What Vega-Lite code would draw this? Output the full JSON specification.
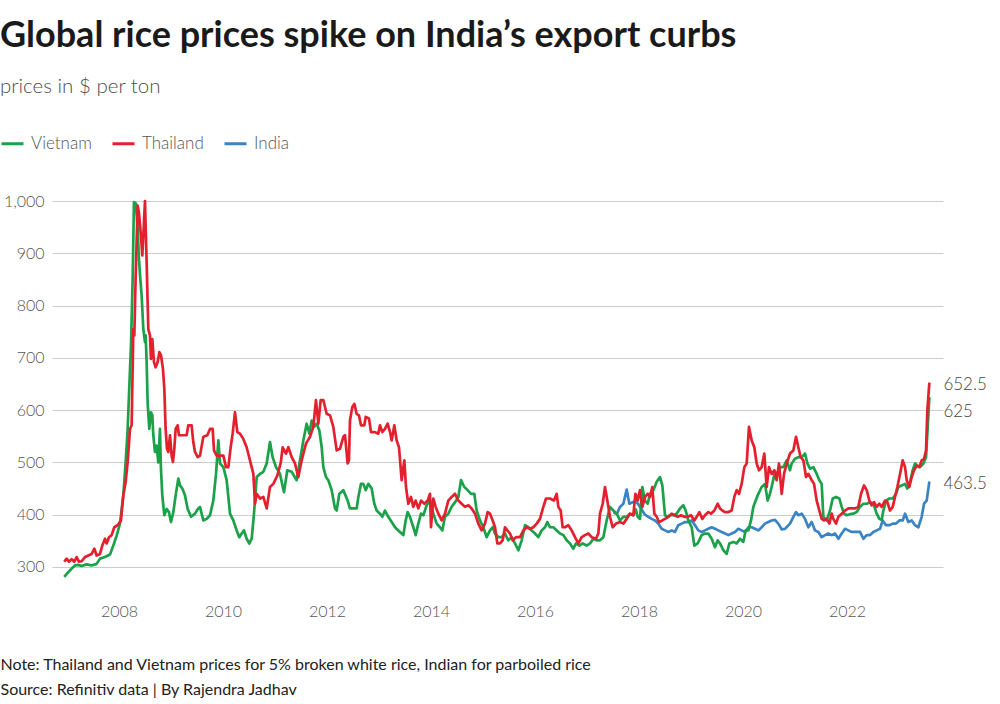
{
"$schema": "https://vega.github.io/schema/vega-lite/v6.json",
"width": 891, "height": 389,
"autosize": {"type": "none"},
"padding": {"left": 52, "top": 201, "right": 57, "bottom": 114},
"background": "white",
"config": {"font": "Lato", "view": {"stroke": null}},
"title": {"text": "Global rice prices spike on India’s export curbs", "subtitle": "prices in $ per ton", "anchor": "start", "frame": "group", "dx": -52, "offset": 33, "fontSize": 36, "fontWeight": "bold", "color": "#1a1a1a", "subtitleFontSize": 20.5, "subtitleColor": "#4d4d4d", "subtitleFontWeight": 300, "subtitlePadding": 22},
"data": {"values": [
{"country":"India","year":2017.507,"price":405},{"country":"India","year":2017.571,"price":401},{"country":"India","year":2017.635,"price":415},{"country":"India","year":2017.699,"price":421},{"country":"India","year":2017.763,"price":448},{"country":"India","year":2017.814,"price":421},{"country":"India","year":2017.878,"price":424},{"country":"India","year":2017.942,"price":425},{"country":"India","year":2017.987,"price":420},{"country":"India","year":2018.051,"price":410},{"country":"India","year":2018.115,"price":400},{"country":"India","year":2018.179,"price":396},{"country":"India","year":2018.244,"price":392},{"country":"India","year":2018.308,"price":389},{"country":"India","year":2018.372,"price":383},{"country":"India","year":2018.436,"price":373},{"country":"India","year":2018.5,"price":370},{"country":"India","year":2018.564,"price":367},{"country":"India","year":2018.628,"price":370},{"country":"India","year":2018.692,"price":367},{"country":"India","year":2018.756,"price":380},{"country":"India","year":2018.82,"price":383},{"country":"India","year":2018.885,"price":386},{"country":"India","year":2018.949,"price":386},{"country":"India","year":2019.013,"price":389},{"country":"India","year":2019.077,"price":380},{"country":"India","year":2019.141,"price":370},{"country":"India","year":2019.205,"price":367},{"country":"India","year":2019.269,"price":370},{"country":"India","year":2019.333,"price":373},{"country":"India","year":2019.397,"price":376},{"country":"India","year":2019.462,"price":373},{"country":"India","year":2019.526,"price":370},{"country":"India","year":2019.59,"price":367},{"country":"India","year":2019.654,"price":364},{"country":"India","year":2019.718,"price":361},{"country":"India","year":2019.782,"price":364},{"country":"India","year":2019.846,"price":367},{"country":"India","year":2019.91,"price":373},{"country":"India","year":2019.974,"price":370},{"country":"India","year":2020.038,"price":367},{"country":"India","year":2020.103,"price":376},{"country":"India","year":2020.167,"price":376},{"country":"India","year":2020.231,"price":373},{"country":"India","year":2020.295,"price":370},{"country":"India","year":2020.359,"price":376},{"country":"India","year":2020.423,"price":383},{"country":"India","year":2020.487,"price":386},{"country":"India","year":2020.551,"price":389},{"country":"India","year":2020.615,"price":390},{"country":"India","year":2020.679,"price":383},{"country":"India","year":2020.744,"price":372},{"country":"India","year":2020.808,"price":373},{"country":"India","year":2020.904,"price":383},{"country":"India","year":2020.968,"price":396},{"country":"India","year":2021.02,"price":405},{"country":"India","year":2021.064,"price":399},{"country":"India","year":2021.129,"price":402},{"country":"India","year":2021.193,"price":392},{"country":"India","year":2021.257,"price":376},{"country":"India","year":2021.321,"price":386},{"country":"India","year":2021.385,"price":370},{"country":"India","year":2021.449,"price":367},{"country":"India","year":2021.513,"price":357},{"country":"India","year":2021.577,"price":361},{"country":"India","year":2021.641,"price":364},{"country":"India","year":2021.705,"price":361},{"country":"India","year":2021.769,"price":364},{"country":"India","year":2021.834,"price":354},{"country":"India","year":2021.898,"price":364},{"country":"India","year":2021.962,"price":373},{"country":"India","year":2022.026,"price":370},{"country":"India","year":2022.09,"price":367},{"country":"India","year":2022.154,"price":367},{"country":"India","year":2022.25,"price":367},{"country":"India","year":2022.314,"price":354},{"country":"India","year":2022.378,"price":361},{"country":"India","year":2022.443,"price":361},{"country":"India","year":2022.507,"price":367},{"country":"India","year":2022.571,"price":370},{"country":"India","year":2022.635,"price":373},{"country":"India","year":2022.686,"price":389},{"country":"India","year":2022.75,"price":380},{"country":"India","year":2022.815,"price":380},{"country":"India","year":2022.879,"price":383},{"country":"India","year":2022.943,"price":383},{"country":"India","year":2023.007,"price":389},{"country":"India","year":2023.071,"price":389},{"country":"India","year":2023.116,"price":402},{"country":"India","year":2023.18,"price":386},{"country":"India","year":2023.244,"price":389},{"country":"India","year":2023.308,"price":380},{"country":"India","year":2023.372,"price":376},{"country":"India","year":2023.436,"price":396},{"country":"India","year":2023.481,"price":421},{"country":"India","year":2023.532,"price":427},{"country":"India","year":2023.584,"price":463.5},
{"country":"Vietnam","year":2006.948,"price":281},{"country":"Vietnam","year":2007.025,"price":290},{"country":"Vietnam","year":2007.09,"price":297},{"country":"Vietnam","year":2007.154,"price":303},{"country":"Vietnam","year":2007.218,"price":304},{"country":"Vietnam","year":2007.282,"price":302},{"country":"Vietnam","year":2007.378,"price":305},{"country":"Vietnam","year":2007.474,"price":303},{"country":"Vietnam","year":2007.57,"price":306},{"country":"Vietnam","year":2007.635,"price":316},{"country":"Vietnam","year":2007.731,"price":319},{"country":"Vietnam","year":2007.827,"price":324},{"country":"Vietnam","year":2007.891,"price":341},{"country":"Vietnam","year":2007.955,"price":360},{"country":"Vietnam","year":2008.019,"price":383},{"country":"Vietnam","year":2008.083,"price":437},{"country":"Vietnam","year":2008.128,"price":500},{"country":"Vietnam","year":2008.167,"price":564},{"country":"Vietnam","year":2008.192,"price":628},{"country":"Vietnam","year":2008.231,"price":724},{"country":"Vietnam","year":2008.263,"price":851},{"country":"Vietnam","year":2008.288,"price":998},{"country":"Vietnam","year":2008.327,"price":995},{"country":"Vietnam","year":2008.359,"price":947},{"country":"Vietnam","year":2008.384,"price":889},{"country":"Vietnam","year":2008.41,"price":851},{"country":"Vietnam","year":2008.436,"price":819},{"country":"Vietnam","year":2008.468,"price":755},{"country":"Vietnam","year":2008.5,"price":730},{"country":"Vietnam","year":2008.513,"price":743},{"country":"Vietnam","year":2008.532,"price":692},{"country":"Vietnam","year":2008.551,"price":615},{"country":"Vietnam","year":2008.583,"price":564},{"country":"Vietnam","year":2008.615,"price":596},{"country":"Vietnam","year":2008.641,"price":590},{"country":"Vietnam","year":2008.66,"price":552},{"country":"Vietnam","year":2008.692,"price":520},{"country":"Vietnam","year":2008.724,"price":532},{"country":"Vietnam","year":2008.756,"price":500},{"country":"Vietnam","year":2008.788,"price":564},{"country":"Vietnam","year":2008.807,"price":488},{"country":"Vietnam","year":2008.833,"price":437},{"country":"Vietnam","year":2008.872,"price":399},{"country":"Vietnam","year":2008.917,"price":411},{"country":"Vietnam","year":2008.961,"price":405},{"country":"Vietnam","year":2009.0,"price":386},{"country":"Vietnam","year":2009.045,"price":405},{"country":"Vietnam","year":2009.09,"price":437},{"country":"Vietnam","year":2009.141,"price":469},{"country":"Vietnam","year":2009.173,"price":456},{"country":"Vietnam","year":2009.218,"price":450},{"country":"Vietnam","year":2009.269,"price":437},{"country":"Vietnam","year":2009.321,"price":411},{"country":"Vietnam","year":2009.385,"price":396},{"country":"Vietnam","year":2009.462,"price":402},{"country":"Vietnam","year":2009.51,"price":410},{"country":"Vietnam","year":2009.558,"price":415},{"country":"Vietnam","year":2009.622,"price":389},{"country":"Vietnam","year":2009.686,"price":392},{"country":"Vietnam","year":2009.75,"price":399},{"country":"Vietnam","year":2009.814,"price":427},{"country":"Vietnam","year":2009.866,"price":478},{"country":"Vietnam","year":2009.911,"price":542},{"country":"Vietnam","year":2009.943,"price":498},{"country":"Vietnam","year":2010.007,"price":491},{"country":"Vietnam","year":2010.071,"price":466},{"country":"Vietnam","year":2010.135,"price":402},{"country":"Vietnam","year":2010.199,"price":389},{"country":"Vietnam","year":2010.263,"price":370},{"country":"Vietnam","year":2010.314,"price":357},{"country":"Vietnam","year":2010.359,"price":364},{"country":"Vietnam","year":2010.404,"price":370},{"country":"Vietnam","year":2010.455,"price":354},{"country":"Vietnam","year":2010.507,"price":345},{"country":"Vietnam","year":2010.552,"price":354},{"country":"Vietnam","year":2010.596,"price":402},{"country":"Vietnam","year":2010.648,"price":472},{"country":"Vietnam","year":2010.712,"price":478},{"country":"Vietnam","year":2010.776,"price":482},{"country":"Vietnam","year":2010.84,"price":498},{"country":"Vietnam","year":2010.904,"price":539},{"country":"Vietnam","year":2010.955,"price":510},{"country":"Vietnam","year":2011.02,"price":491},{"country":"Vietnam","year":2011.096,"price":478},{"country":"Vietnam","year":2011.173,"price":443},{"country":"Vietnam","year":2011.237,"price":485},{"country":"Vietnam","year":2011.321,"price":482},{"country":"Vietnam","year":2011.417,"price":466},{"country":"Vietnam","year":2011.481,"price":504},{"country":"Vietnam","year":2011.545,"price":542},{"country":"Vietnam","year":2011.609,"price":574},{"country":"Vietnam","year":2011.661,"price":555},{"country":"Vietnam","year":2011.705,"price":580},{"country":"Vietnam","year":2011.75,"price":568},{"country":"Vietnam","year":2011.802,"price":574},{"country":"Vietnam","year":2011.853,"price":561},{"country":"Vietnam","year":2011.898,"price":529},{"country":"Vietnam","year":2011.93,"price":491},{"country":"Vietnam","year":2011.981,"price":472},{"country":"Vietnam","year":2012.026,"price":466},{"country":"Vietnam","year":2012.09,"price":447},{"country":"Vietnam","year":2012.154,"price":412},{"country":"Vietnam","year":2012.186,"price":408},{"country":"Vietnam","year":2012.237,"price":440},{"country":"Vietnam","year":2012.314,"price":447},{"country":"Vietnam","year":2012.397,"price":427},{"country":"Vietnam","year":2012.442,"price":412},{"country":"Vietnam","year":2012.506,"price":412},{"country":"Vietnam","year":2012.571,"price":412},{"country":"Vietnam","year":2012.603,"price":434},{"country":"Vietnam","year":2012.654,"price":459},{"country":"Vietnam","year":2012.699,"price":459},{"country":"Vietnam","year":2012.744,"price":447},{"country":"Vietnam","year":2012.795,"price":459},{"country":"Vietnam","year":2012.859,"price":450},{"country":"Vietnam","year":2012.91,"price":421},{"country":"Vietnam","year":2012.955,"price":408},{"country":"Vietnam","year":2013.019,"price":402},{"country":"Vietnam","year":2013.064,"price":396},{"country":"Vietnam","year":2013.115,"price":408},{"country":"Vietnam","year":2013.179,"price":396},{"country":"Vietnam","year":2013.244,"price":386},{"country":"Vietnam","year":2013.308,"price":376},{"country":"Vietnam","year":2013.372,"price":370},{"country":"Vietnam","year":2013.468,"price":361},{"country":"Vietnam","year":2013.513,"price":389},{"country":"Vietnam","year":2013.551,"price":405},{"country":"Vietnam","year":2013.596,"price":396},{"country":"Vietnam","year":2013.66,"price":376},{"country":"Vietnam","year":2013.705,"price":361},{"country":"Vietnam","year":2013.756,"price":383},{"country":"Vietnam","year":2013.808,"price":402},{"country":"Vietnam","year":2013.853,"price":399},{"country":"Vietnam","year":2013.917,"price":418},{"country":"Vietnam","year":2013.981,"price":427},{"country":"Vietnam","year":2014.045,"price":402},{"country":"Vietnam","year":2014.109,"price":383},{"country":"Vietnam","year":2014.173,"price":376},{"country":"Vietnam","year":2014.218,"price":370},{"country":"Vietnam","year":2014.269,"price":396},{"country":"Vietnam","year":2014.333,"price":402},{"country":"Vietnam","year":2014.397,"price":415},{"country":"Vietnam","year":2014.462,"price":424},{"country":"Vietnam","year":2014.526,"price":434},{"country":"Vietnam","year":2014.577,"price":466},{"country":"Vietnam","year":2014.641,"price":453},{"country":"Vietnam","year":2014.705,"price":447},{"country":"Vietnam","year":2014.769,"price":440},{"country":"Vietnam","year":2014.833,"price":440},{"country":"Vietnam","year":2014.878,"price":408},{"country":"Vietnam","year":2014.942,"price":389},{"country":"Vietnam","year":2015.006,"price":376},{"country":"Vietnam","year":2015.071,"price":357},{"country":"Vietnam","year":2015.135,"price":370},{"country":"Vietnam","year":2015.186,"price":376},{"country":"Vietnam","year":2015.231,"price":364},{"country":"Vietnam","year":2015.295,"price":357},{"country":"Vietnam","year":2015.359,"price":357},{"country":"Vietnam","year":2015.423,"price":364},{"country":"Vietnam","year":2015.487,"price":351},{"country":"Vietnam","year":2015.551,"price":357},{"country":"Vietnam","year":2015.615,"price":345},{"country":"Vietnam","year":2015.68,"price":332},{"country":"Vietnam","year":2015.744,"price":351},{"country":"Vietnam","year":2015.808,"price":380},{"country":"Vietnam","year":2015.872,"price":376},{"country":"Vietnam","year":2015.936,"price":370},{"country":"Vietnam","year":2016.0,"price":364},{"country":"Vietnam","year":2016.064,"price":357},{"country":"Vietnam","year":2016.128,"price":370},{"country":"Vietnam","year":2016.193,"price":376},{"country":"Vietnam","year":2016.237,"price":386},{"country":"Vietnam","year":2016.289,"price":376},{"country":"Vietnam","year":2016.353,"price":376},{"country":"Vietnam","year":2016.417,"price":370},{"country":"Vietnam","year":2016.481,"price":364},{"country":"Vietnam","year":2016.545,"price":361},{"country":"Vietnam","year":2016.609,"price":351},{"country":"Vietnam","year":2016.673,"price":345},{"country":"Vietnam","year":2016.737,"price":335},{"country":"Vietnam","year":2016.788,"price":345},{"country":"Vietnam","year":2016.853,"price":341},{"country":"Vietnam","year":2016.917,"price":345},{"country":"Vietnam","year":2016.994,"price":341},{"country":"Vietnam","year":2017.058,"price":345},{"country":"Vietnam","year":2017.122,"price":354},{"country":"Vietnam","year":2017.186,"price":351},{"country":"Vietnam","year":2017.25,"price":351},{"country":"Vietnam","year":2017.314,"price":357},{"country":"Vietnam","year":2017.378,"price":389},{"country":"Vietnam","year":2017.442,"price":415},{"country":"Vietnam","year":2017.506,"price":408},{"country":"Vietnam","year":2017.571,"price":402},{"country":"Vietnam","year":2017.635,"price":389},{"country":"Vietnam","year":2017.699,"price":396},{"country":"Vietnam","year":2017.763,"price":396},{"country":"Vietnam","year":2017.827,"price":402},{"country":"Vietnam","year":2017.891,"price":399},{"country":"Vietnam","year":2017.94,"price":410},{"country":"Vietnam","year":2017.974,"price":396},{"country":"Vietnam","year":2018.019,"price":392},{"country":"Vietnam","year":2018.064,"price":453},{"country":"Vietnam","year":2018.115,"price":427},{"country":"Vietnam","year":2018.167,"price":421},{"country":"Vietnam","year":2018.212,"price":440},{"country":"Vietnam","year":2018.276,"price":447},{"country":"Vietnam","year":2018.34,"price":463},{"country":"Vietnam","year":2018.404,"price":472},{"country":"Vietnam","year":2018.449,"price":456},{"country":"Vietnam","year":2018.5,"price":399},{"country":"Vietnam","year":2018.551,"price":396},{"country":"Vietnam","year":2018.596,"price":399},{"country":"Vietnam","year":2018.66,"price":399},{"country":"Vietnam","year":2018.724,"price":402},{"country":"Vietnam","year":2018.788,"price":412},{"country":"Vietnam","year":2018.853,"price":418},{"country":"Vietnam","year":2018.897,"price":408},{"country":"Vietnam","year":2018.949,"price":389},{"country":"Vietnam","year":2019.013,"price":376},{"country":"Vietnam","year":2019.064,"price":341},{"country":"Vietnam","year":2019.128,"price":345},{"country":"Vietnam","year":2019.205,"price":361},{"country":"Vietnam","year":2019.269,"price":364},{"country":"Vietnam","year":2019.333,"price":364},{"country":"Vietnam","year":2019.397,"price":354},{"country":"Vietnam","year":2019.462,"price":338},{"country":"Vietnam","year":2019.513,"price":351},{"country":"Vietnam","year":2019.558,"price":345},{"country":"Vietnam","year":2019.622,"price":332},{"country":"Vietnam","year":2019.686,"price":325},{"country":"Vietnam","year":2019.737,"price":345},{"country":"Vietnam","year":2019.814,"price":348},{"country":"Vietnam","year":2019.878,"price":345},{"country":"Vietnam","year":2019.942,"price":354},{"country":"Vietnam","year":2020.006,"price":348},{"country":"Vietnam","year":2020.051,"price":370},{"country":"Vietnam","year":2020.103,"price":370},{"country":"Vietnam","year":2020.154,"price":389},{"country":"Vietnam","year":2020.199,"price":415},{"country":"Vietnam","year":2020.244,"price":427},{"country":"Vietnam","year":2020.295,"price":440},{"country":"Vietnam","year":2020.359,"price":453},{"country":"Vietnam","year":2020.423,"price":459},{"country":"Vietnam","year":2020.474,"price":427},{"country":"Vietnam","year":2020.519,"price":440},{"country":"Vietnam","year":2020.564,"price":459},{"country":"Vietnam","year":2020.615,"price":482},{"country":"Vietnam","year":2020.679,"price":478},{"country":"Vietnam","year":2020.712,"price":491},{"country":"Vietnam","year":2020.776,"price":491},{"country":"Vietnam","year":2020.84,"price":504},{"country":"Vietnam","year":2020.904,"price":485},{"country":"Vietnam","year":2020.936,"price":498},{"country":"Vietnam","year":2021.0,"price":507},{"country":"Vietnam","year":2021.064,"price":510},{"country":"Vietnam","year":2021.129,"price":510},{"country":"Vietnam","year":2021.193,"price":517},{"country":"Vietnam","year":2021.238,"price":498},{"country":"Vietnam","year":2021.289,"price":488},{"country":"Vietnam","year":2021.353,"price":491},{"country":"Vietnam","year":2021.417,"price":478},{"country":"Vietnam","year":2021.468,"price":466},{"country":"Vietnam","year":2021.513,"price":459},{"country":"Vietnam","year":2021.545,"price":396},{"country":"Vietnam","year":2021.609,"price":389},{"country":"Vietnam","year":2021.674,"price":408},{"country":"Vietnam","year":2021.725,"price":431},{"country":"Vietnam","year":2021.789,"price":434},{"country":"Vietnam","year":2021.853,"price":431},{"country":"Vietnam","year":2021.898,"price":415},{"country":"Vietnam","year":2021.943,"price":402},{"country":"Vietnam","year":2021.994,"price":399},{"country":"Vietnam","year":2022.058,"price":401},{"country":"Vietnam","year":2022.122,"price":402},{"country":"Vietnam","year":2022.186,"price":405},{"country":"Vietnam","year":2022.25,"price":415},{"country":"Vietnam","year":2022.314,"price":421},{"country":"Vietnam","year":2022.379,"price":421},{"country":"Vietnam","year":2022.443,"price":424},{"country":"Vietnam","year":2022.507,"price":421},{"country":"Vietnam","year":2022.571,"price":402},{"country":"Vietnam","year":2022.622,"price":392},{"country":"Vietnam","year":2022.667,"price":390},{"country":"Vietnam","year":2022.699,"price":408},{"country":"Vietnam","year":2022.75,"price":427},{"country":"Vietnam","year":2022.815,"price":431},{"country":"Vietnam","year":2022.879,"price":431},{"country":"Vietnam","year":2022.943,"price":440},{"country":"Vietnam","year":2022.988,"price":453},{"country":"Vietnam","year":2023.051,"price":456},{"country":"Vietnam","year":2023.116,"price":459},{"country":"Vietnam","year":2023.16,"price":450},{"country":"Vietnam","year":2023.212,"price":462},{"country":"Vietnam","year":2023.263,"price":485},{"country":"Vietnam","year":2023.308,"price":498},{"country":"Vietnam","year":2023.353,"price":494},{"country":"Vietnam","year":2023.404,"price":491},{"country":"Vietnam","year":2023.468,"price":498},{"country":"Vietnam","year":2023.52,"price":510},{"country":"Vietnam","year":2023.552,"price":568},{"country":"Vietnam","year":2023.584,"price":625},
{"country":"Thailand","year":2006.948,"price":310},{"country":"Thailand","year":2006.993,"price":316},{"country":"Thailand","year":2007.038,"price":310},{"country":"Thailand","year":2007.09,"price":315},{"country":"Thailand","year":2007.141,"price":310},{"country":"Thailand","year":2007.186,"price":319},{"country":"Thailand","year":2007.231,"price":310},{"country":"Thailand","year":2007.282,"price":311},{"country":"Thailand","year":2007.346,"price":319},{"country":"Thailand","year":2007.41,"price":322},{"country":"Thailand","year":2007.474,"price":325},{"country":"Thailand","year":2007.526,"price":335},{"country":"Thailand","year":2007.57,"price":322},{"country":"Thailand","year":2007.635,"price":325},{"country":"Thailand","year":2007.679,"price":341},{"country":"Thailand","year":2007.731,"price":354},{"country":"Thailand","year":2007.763,"price":345},{"country":"Thailand","year":2007.808,"price":357},{"country":"Thailand","year":2007.859,"price":361},{"country":"Thailand","year":2007.91,"price":376},{"country":"Thailand","year":2007.974,"price":380},{"country":"Thailand","year":2008.038,"price":389},{"country":"Thailand","year":2008.083,"price":437},{"country":"Thailand","year":2008.128,"price":462},{"country":"Thailand","year":2008.167,"price":501},{"country":"Thailand","year":2008.212,"price":564},{"country":"Thailand","year":2008.244,"price":571},{"country":"Thailand","year":2008.276,"price":755},{"country":"Thailand","year":2008.295,"price":743},{"country":"Thailand","year":2008.32,"price":851},{"country":"Thailand","year":2008.359,"price":991},{"country":"Thailand","year":2008.384,"price":978},{"country":"Thailand","year":2008.417,"price":940},{"country":"Thailand","year":2008.449,"price":896},{"country":"Thailand","year":2008.474,"price":947},{"country":"Thailand","year":2008.5,"price":1000},{"country":"Thailand","year":2008.532,"price":883},{"country":"Thailand","year":2008.564,"price":755},{"country":"Thailand","year":2008.596,"price":743},{"country":"Thailand","year":2008.615,"price":698},{"country":"Thailand","year":2008.641,"price":736},{"country":"Thailand","year":2008.673,"price":692},{"country":"Thailand","year":2008.705,"price":682},{"country":"Thailand","year":2008.744,"price":692},{"country":"Thailand","year":2008.776,"price":711},{"country":"Thailand","year":2008.808,"price":705},{"country":"Thailand","year":2008.846,"price":679},{"country":"Thailand","year":2008.872,"price":641},{"country":"Thailand","year":2008.897,"price":564},{"country":"Thailand","year":2008.923,"price":526},{"country":"Thailand","year":2008.949,"price":520},{"country":"Thailand","year":2008.981,"price":552},{"country":"Thailand","year":2009.013,"price":513},{"country":"Thailand","year":2009.038,"price":501},{"country":"Thailand","year":2009.064,"price":526},{"country":"Thailand","year":2009.09,"price":564},{"country":"Thailand","year":2009.128,"price":571},{"country":"Thailand","year":2009.154,"price":552},{"country":"Thailand","year":2009.237,"price":552},{"country":"Thailand","year":2009.301,"price":552},{"country":"Thailand","year":2009.333,"price":571},{"country":"Thailand","year":2009.397,"price":571},{"country":"Thailand","year":2009.429,"price":539},{"country":"Thailand","year":2009.462,"price":520},{"country":"Thailand","year":2009.513,"price":510},{"country":"Thailand","year":2009.558,"price":513},{"country":"Thailand","year":2009.622,"price":549},{"country":"Thailand","year":2009.699,"price":552},{"country":"Thailand","year":2009.75,"price":564},{"country":"Thailand","year":2009.802,"price":564},{"country":"Thailand","year":2009.827,"price":523},{"country":"Thailand","year":2009.878,"price":513},{"country":"Thailand","year":2009.943,"price":513},{"country":"Thailand","year":2010.007,"price":513},{"country":"Thailand","year":2010.058,"price":491},{"country":"Thailand","year":2010.103,"price":491},{"country":"Thailand","year":2010.148,"price":529},{"country":"Thailand","year":2010.186,"price":555},{"country":"Thailand","year":2010.231,"price":596},{"country":"Thailand","year":2010.276,"price":558},{"country":"Thailand","year":2010.327,"price":555},{"country":"Thailand","year":2010.391,"price":545},{"country":"Thailand","year":2010.455,"price":529},{"country":"Thailand","year":2010.519,"price":504},{"country":"Thailand","year":2010.584,"price":478},{"country":"Thailand","year":2010.616,"price":421},{"country":"Thailand","year":2010.648,"price":440},{"country":"Thailand","year":2010.712,"price":431},{"country":"Thailand","year":2010.776,"price":434},{"country":"Thailand","year":2010.84,"price":412},{"country":"Thailand","year":2010.904,"price":453},{"country":"Thailand","year":2010.968,"price":459},{"country":"Thailand","year":2011.045,"price":475},{"country":"Thailand","year":2011.109,"price":498},{"country":"Thailand","year":2011.148,"price":529},{"country":"Thailand","year":2011.212,"price":517},{"country":"Thailand","year":2011.257,"price":529},{"country":"Thailand","year":2011.321,"price":510},{"country":"Thailand","year":2011.385,"price":498},{"country":"Thailand","year":2011.449,"price":472},{"country":"Thailand","year":2011.513,"price":504},{"country":"Thailand","year":2011.596,"price":536},{"country":"Thailand","year":2011.673,"price":549},{"country":"Thailand","year":2011.737,"price":568},{"country":"Thailand","year":2011.788,"price":619},{"country":"Thailand","year":2011.834,"price":574},{"country":"Thailand","year":2011.879,"price":619},{"country":"Thailand","year":2011.93,"price":619},{"country":"Thailand","year":2011.994,"price":593},{"country":"Thailand","year":2012.058,"price":590},{"country":"Thailand","year":2012.122,"price":568},{"country":"Thailand","year":2012.186,"price":523},{"country":"Thailand","year":2012.25,"price":526},{"country":"Thailand","year":2012.314,"price":549},{"country":"Thailand","year":2012.346,"price":552},{"country":"Thailand","year":2012.397,"price":498},{"country":"Thailand","year":2012.423,"price":504},{"country":"Thailand","year":2012.442,"price":580},{"country":"Thailand","year":2012.487,"price":606},{"country":"Thailand","year":2012.526,"price":612},{"country":"Thailand","year":2012.57,"price":593},{"country":"Thailand","year":2012.615,"price":590},{"country":"Thailand","year":2012.654,"price":571},{"country":"Thailand","year":2012.718,"price":571},{"country":"Thailand","year":2012.744,"price":587},{"country":"Thailand","year":2012.808,"price":584},{"country":"Thailand","year":2012.846,"price":558},{"country":"Thailand","year":2012.923,"price":558},{"country":"Thailand","year":2012.987,"price":555},{"country":"Thailand","year":2013.019,"price":571},{"country":"Thailand","year":2013.064,"price":558},{"country":"Thailand","year":2013.115,"price":564},{"country":"Thailand","year":2013.167,"price":574},{"country":"Thailand","year":2013.212,"price":558},{"country":"Thailand","year":2013.244,"price":542},{"country":"Thailand","year":2013.295,"price":571},{"country":"Thailand","year":2013.34,"price":542},{"country":"Thailand","year":2013.385,"price":529},{"country":"Thailand","year":2013.436,"price":466},{"country":"Thailand","year":2013.487,"price":504},{"country":"Thailand","year":2013.519,"price":453},{"country":"Thailand","year":2013.564,"price":421},{"country":"Thailand","year":2013.615,"price":434},{"country":"Thailand","year":2013.66,"price":415},{"country":"Thailand","year":2013.705,"price":427},{"country":"Thailand","year":2013.756,"price":412},{"country":"Thailand","year":2013.808,"price":427},{"country":"Thailand","year":2013.872,"price":421},{"country":"Thailand","year":2013.936,"price":427},{"country":"Thailand","year":2013.981,"price":440},{"country":"Thailand","year":2014.0,"price":376},{"country":"Thailand","year":2014.045,"price":431},{"country":"Thailand","year":2014.09,"price":415},{"country":"Thailand","year":2014.141,"price":402},{"country":"Thailand","year":2014.205,"price":389},{"country":"Thailand","year":2014.269,"price":402},{"country":"Thailand","year":2014.333,"price":427},{"country":"Thailand","year":2014.397,"price":434},{"country":"Thailand","year":2014.462,"price":440},{"country":"Thailand","year":2014.526,"price":427},{"country":"Thailand","year":2014.59,"price":421},{"country":"Thailand","year":2014.654,"price":415},{"country":"Thailand","year":2014.718,"price":418},{"country":"Thailand","year":2014.782,"price":412},{"country":"Thailand","year":2014.846,"price":402},{"country":"Thailand","year":2014.91,"price":383},{"country":"Thailand","year":2014.974,"price":370},{"country":"Thailand","year":2015.038,"price":383},{"country":"Thailand","year":2015.09,"price":405},{"country":"Thailand","year":2015.135,"price":402},{"country":"Thailand","year":2015.186,"price":389},{"country":"Thailand","year":2015.231,"price":376},{"country":"Thailand","year":2015.276,"price":345},{"country":"Thailand","year":2015.327,"price":345},{"country":"Thailand","year":2015.379,"price":351},{"country":"Thailand","year":2015.423,"price":376},{"country":"Thailand","year":2015.468,"price":370},{"country":"Thailand","year":2015.519,"price":364},{"country":"Thailand","year":2015.571,"price":351},{"country":"Thailand","year":2015.635,"price":357},{"country":"Thailand","year":2015.712,"price":357},{"country":"Thailand","year":2015.776,"price":370},{"country":"Thailand","year":2015.84,"price":376},{"country":"Thailand","year":2015.904,"price":373},{"country":"Thailand","year":2015.968,"price":376},{"country":"Thailand","year":2016.032,"price":383},{"country":"Thailand","year":2016.096,"price":392},{"country":"Thailand","year":2016.16,"price":415},{"country":"Thailand","year":2016.212,"price":431},{"country":"Thailand","year":2016.289,"price":431},{"country":"Thailand","year":2016.365,"price":427},{"country":"Thailand","year":2016.417,"price":440},{"country":"Thailand","year":2016.449,"price":415},{"country":"Thailand","year":2016.494,"price":408},{"country":"Thailand","year":2016.532,"price":376},{"country":"Thailand","year":2016.577,"price":376},{"country":"Thailand","year":2016.641,"price":380},{"country":"Thailand","year":2016.705,"price":370},{"country":"Thailand","year":2016.769,"price":357},{"country":"Thailand","year":2016.833,"price":345},{"country":"Thailand","year":2016.898,"price":357},{"country":"Thailand","year":2016.962,"price":361},{"country":"Thailand","year":2017.026,"price":364},{"country":"Thailand","year":2017.09,"price":357},{"country":"Thailand","year":2017.173,"price":354},{"country":"Thailand","year":2017.218,"price":364},{"country":"Thailand","year":2017.25,"price":402},{"country":"Thailand","year":2017.302,"price":421},{"country":"Thailand","year":2017.346,"price":453},{"country":"Thailand","year":2017.391,"price":427},{"country":"Thailand","year":2017.442,"price":396},{"country":"Thailand","year":2017.494,"price":376},{"country":"Thailand","year":2017.558,"price":383},{"country":"Thailand","year":2017.635,"price":386},{"country":"Thailand","year":2017.699,"price":383},{"country":"Thailand","year":2017.763,"price":392},{"country":"Thailand","year":2017.827,"price":402},{"country":"Thailand","year":2017.891,"price":399},{"country":"Thailand","year":2017.93,"price":440},{"country":"Thailand","year":2017.974,"price":427},{"country":"Thailand","year":2018.019,"price":447},{"country":"Thailand","year":2018.064,"price":415},{"country":"Thailand","year":2018.115,"price":434},{"country":"Thailand","year":2018.167,"price":440},{"country":"Thailand","year":2018.212,"price":434},{"country":"Thailand","year":2018.256,"price":453},{"country":"Thailand","year":2018.295,"price":402},{"country":"Thailand","year":2018.34,"price":396},{"country":"Thailand","year":2018.385,"price":386},{"country":"Thailand","year":2018.449,"price":389},{"country":"Thailand","year":2018.5,"price":392},{"country":"Thailand","year":2018.564,"price":396},{"country":"Thailand","year":2018.628,"price":402},{"country":"Thailand","year":2018.679,"price":399},{"country":"Thailand","year":2018.744,"price":396},{"country":"Thailand","year":2018.808,"price":399},{"country":"Thailand","year":2018.872,"price":396},{"country":"Thailand","year":2018.936,"price":396},{"country":"Thailand","year":2019.0,"price":399},{"country":"Thailand","year":2019.064,"price":389},{"country":"Thailand","year":2019.109,"price":396},{"country":"Thailand","year":2019.16,"price":405},{"country":"Thailand","year":2019.218,"price":392},{"country":"Thailand","year":2019.269,"price":399},{"country":"Thailand","year":2019.333,"price":405},{"country":"Thailand","year":2019.385,"price":402},{"country":"Thailand","year":2019.449,"price":408},{"country":"Thailand","year":2019.513,"price":421},{"country":"Thailand","year":2019.558,"price":412},{"country":"Thailand","year":2019.603,"price":408},{"country":"Thailand","year":2019.654,"price":405},{"country":"Thailand","year":2019.718,"price":405},{"country":"Thailand","year":2019.782,"price":408},{"country":"Thailand","year":2019.833,"price":434},{"country":"Thailand","year":2019.878,"price":447},{"country":"Thailand","year":2019.923,"price":440},{"country":"Thailand","year":2019.974,"price":459},{"country":"Thailand","year":2020.026,"price":491},{"country":"Thailand","year":2020.071,"price":498},{"country":"Thailand","year":2020.115,"price":568},{"country":"Thailand","year":2020.167,"price":542},{"country":"Thailand","year":2020.218,"price":529},{"country":"Thailand","year":2020.263,"price":498},{"country":"Thailand","year":2020.308,"price":485},{"country":"Thailand","year":2020.359,"price":491},{"country":"Thailand","year":2020.41,"price":517},{"country":"Thailand","year":2020.455,"price":453},{"country":"Thailand","year":2020.5,"price":491},{"country":"Thailand","year":2020.551,"price":478},{"country":"Thailand","year":2020.603,"price":485},{"country":"Thailand","year":2020.647,"price":466},{"country":"Thailand","year":2020.692,"price":498},{"country":"Thailand","year":2020.744,"price":440},{"country":"Thailand","year":2020.789,"price":478},{"country":"Thailand","year":2020.84,"price":498},{"country":"Thailand","year":2020.904,"price":517},{"country":"Thailand","year":2020.968,"price":523},{"country":"Thailand","year":2021.02,"price":549},{"country":"Thailand","year":2021.064,"price":529},{"country":"Thailand","year":2021.109,"price":510},{"country":"Thailand","year":2021.161,"price":504},{"country":"Thailand","year":2021.212,"price":472},{"country":"Thailand","year":2021.257,"price":478},{"country":"Thailand","year":2021.321,"price":466},{"country":"Thailand","year":2021.366,"price":459},{"country":"Thailand","year":2021.417,"price":427},{"country":"Thailand","year":2021.468,"price":408},{"country":"Thailand","year":2021.513,"price":392},{"country":"Thailand","year":2021.558,"price":389},{"country":"Thailand","year":2021.609,"price":392},{"country":"Thailand","year":2021.661,"price":383},{"country":"Thailand","year":2021.705,"price":402},{"country":"Thailand","year":2021.737,"price":392},{"country":"Thailand","year":2021.789,"price":383},{"country":"Thailand","year":2021.834,"price":396},{"country":"Thailand","year":2021.898,"price":402},{"country":"Thailand","year":2021.962,"price":408},{"country":"Thailand","year":2022.026,"price":412},{"country":"Thailand","year":2022.09,"price":412},{"country":"Thailand","year":2022.154,"price":412},{"country":"Thailand","year":2022.218,"price":415},{"country":"Thailand","year":2022.27,"price":440},{"country":"Thailand","year":2022.327,"price":456},{"country":"Thailand","year":2022.379,"price":447},{"country":"Thailand","year":2022.43,"price":427},{"country":"Thailand","year":2022.475,"price":418},{"country":"Thailand","year":2022.52,"price":424},{"country":"Thailand","year":2022.571,"price":415},{"country":"Thailand","year":2022.622,"price":421},{"country":"Thailand","year":2022.667,"price":415},{"country":"Thailand","year":2022.731,"price":427},{"country":"Thailand","year":2022.776,"price":424},{"country":"Thailand","year":2022.827,"price":408},{"country":"Thailand","year":2022.879,"price":415},{"country":"Thailand","year":2022.923,"price":434},{"country":"Thailand","year":2022.968,"price":453},{"country":"Thailand","year":2023.02,"price":478},{"country":"Thailand","year":2023.071,"price":504},{"country":"Thailand","year":2023.116,"price":491},{"country":"Thailand","year":2023.148,"price":466},{"country":"Thailand","year":2023.199,"price":453},{"country":"Thailand","year":2023.244,"price":472},{"country":"Thailand","year":2023.289,"price":485},{"country":"Thailand","year":2023.34,"price":494},{"country":"Thailand","year":2023.391,"price":491},{"country":"Thailand","year":2023.436,"price":504},{"country":"Thailand","year":2023.481,"price":507},{"country":"Thailand","year":2023.52,"price":523},{"country":"Thailand","year":2023.545,"price":600},{"country":"Thailand","year":2023.584,"price":652.5}
]},
"encoding": {
  "x": {"field": "year", "type": "quantitative", "scale": {"domain": [2006.712, 2023.846], "nice": false, "zero": false},
        "axis": {"values": [2008, 2010, 2012, 2014, 2016, 2018, 2020, 2022], "format": "d", "grid": false, "ticks": false, "domain": false, "labelFontSize": 16, "labelColor": "#555555", "labelPadding": 13, "labelFontWeight": 300,
                 "title": ["Note: Thailand and Vietnam prices for 5% broken white rice, Indian for parboiled rice", "Source: Refinitiv data | By Rajendra Jadhav"],
                 "titleFontSize": 16, "titleFontWeight": "normal", "titleColor": "#222222", "titleAnchor": "start", "titleAlign": "left", "titleBaseline": "top", "titleX": -52, "titleY": 66, "titleLineHeight": 25, "titleAngle": 0}},
  "y": {"field": "price", "type": "quantitative", "scale": {"domain": [256, 1000], "nice": false, "zero": false},
        "axis": {"values": [300, 400, 500, 600, 700, 800, 900, 1000], "format": ",.0f", "title": null, "ticks": false, "domain": false, "labelFontSize": 16, "labelColor": "#555555", "labelPadding": 8, "labelFontWeight": 300, "gridColor": "#cccccc", "gridWidth": 1.2}}
},
"layer": [
  {"mark": {"type": "line", "strokeWidth": 2.7, "strokeJoin": "round"},
   "encoding": {"color": {"field": "country", "type": "nominal",
      "scale": {"domain": ["Vietnam", "Thailand", "India"], "range": ["#1ba14a", "#e4202e", "#3a84c4"]},
      "legend": {"orient": "none", "legendX": -52, "legendY": -70, "direction": "horizontal", "title": null, "symbolType": "stroke", "symbolSize": 484, "symbolStrokeWidth": 3, "labelFontSize": 17, "labelColor": "#555555", "labelFontWeight": 300, "labelOffset": 6, "columnPadding": 14}}}},
  {"transform": [{"filter": "datum.year == 2023.584 && datum.country != 'Vietnam'"}],
   "mark": {"type": "text", "align": "left", "baseline": "middle", "dx": 14, "dy": 2, "fontSize": 17, "fontWeight": 300, "color": "#444444"},
   "encoding": {"text": {"field": "price", "type": "quantitative", "format": ".1~f"}}},
  {"transform": [{"filter": "datum.year == 2023.584 && datum.country == 'Vietnam'"}],
   "mark": {"type": "text", "align": "left", "baseline": "middle", "dx": 14, "dy": 15, "fontSize": 17, "fontWeight": 300, "color": "#444444"},
   "encoding": {"text": {"field": "price", "type": "quantitative", "format": ".1~f"}}}
]
}
